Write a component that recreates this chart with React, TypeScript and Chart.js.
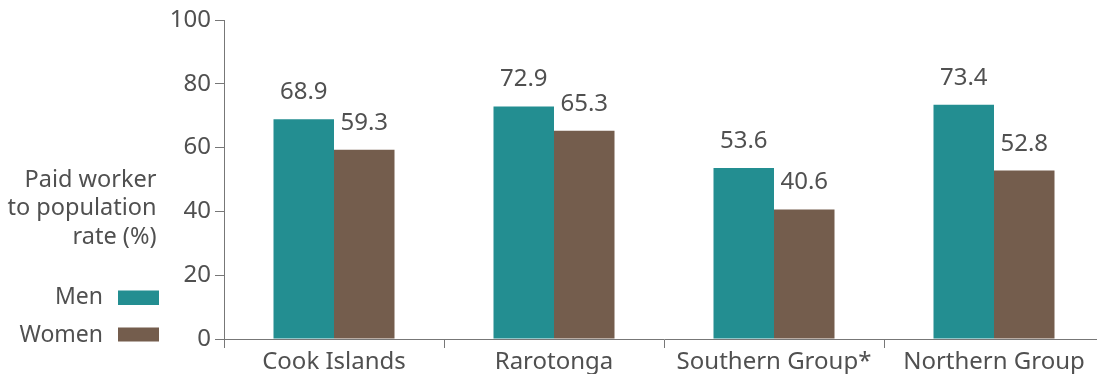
import React, { useEffect, useRef } from "react";
import { Chart, registerables } from "chart.js";

Chart.register(...registerables);

const categories = ["Cook Islands", "Rarotonga", "Southern Group*", "Northern Group"];
const menValues = [68.9, 72.9, 53.6, 73.4];
const womenValues = [59.3, 65.3, 40.6, 52.8];
const seriesNames = ["Men", "Women"];
const axisTitleLines = ["Paid worker", "to population", "rate (%)"];

const MEN_COLOR = "#238e91";
const WOMEN_COLOR = "#745d4d";
const TEXT_COLOR = "#505050";
const AXIS_COLOR = "#777777";
const FONT = "'Noto Sans'";

// Draws the value labels above bars, the y-axis title and the legend on the left side.
const annotationsPlugin = {
  id: "annotations",
  afterDraw(chart: any) {
    const ctx = chart.ctx as CanvasRenderingContext2D;
    ctx.save();
    ctx.fillStyle = TEXT_COLOR;

    // value labels
    ctx.font = `24px ${FONT}`;
    ctx.textAlign = "center";
    ctx.textBaseline = "alphabetic";
    chart.data.datasets.forEach((ds: any, i: number) => {
      const meta = chart.getDatasetMeta(i);
      meta.data.forEach((bar: any, j: number) => {
        ctx.fillText(Number(ds.data[j]).toFixed(1), bar.x, bar.y - 20);
      });
    });

    // y-axis title
    ctx.font = `23.5px ${FONT}`;
    ctx.textAlign = "right";
    axisTitleLines.forEach((line, k) => {
      ctx.fillText(line, 156.5, 186.5 + k * 28.5);
    });

    // legend
    ctx.font = `23px ${FONT}`;
    const rows = [
      { y: 304, boxY: 290.5, boxH: 14.5 },
      { y: 341.5, boxY: 327.5, boxH: 14 },
    ];
    chart.data.datasets.forEach((ds: any, i: number) => {
      const r = rows[i];
      ctx.fillStyle = TEXT_COLOR;
      ctx.fillText(ds.label, 103, r.y);
      ctx.fillStyle = ds.backgroundColor;
      ctx.fillRect(118, r.boxY, 41, r.boxH);
    });

    ctx.restore();
  },
};

export default function App() {
  const canvasRef = useRef<HTMLCanvasElement | null>(null);

  useEffect(() => {
    if (!canvasRef.current) return;
    const chart = new Chart(canvasRef.current, {
      type: "bar",
      data: {
        labels: categories,
        datasets: [
          {
            label: seriesNames[0],
            data: menValues,
            backgroundColor: MEN_COLOR,
            borderWidth: 0,
          },
          {
            label: seriesNames[1],
            data: womenValues,
            backgroundColor: WOMEN_COLOR,
            borderWidth: 0,
          },
        ],
      },
      options: {
        responsive: false,
        animation: false,
        layout: { padding: { top: 20, left: 0, right: 0, bottom: 0 } },
        plugins: {
          legend: { display: false },
          tooltip: { enabled: false },
        },
        datasets: {
          bar: { categoryPercentage: 0.55, barPercentage: 1.0 },
        },
        scales: {
          x: {
            offset: true,
            grid: {
              offset: true,
              drawOnChartArea: false,
              tickLength: 9,
              color: AXIS_COLOR,
            },
            border: { color: AXIS_COLOR, width: 1 },
            ticks: {
              font: { family: FONT, size: 24 },
              color: TEXT_COLOR,
              padding: 0,
              maxRotation: 0,
              autoSkip: false,
            },
            afterFit(scale: any) {
              scale.height = 35;
            },
          },
          y: {
            min: 0,
            max: 100,
            grid: {
              drawOnChartArea: false,
              tickLength: 9,
              color: AXIS_COLOR,
            },
            border: { color: AXIS_COLOR, width: 1 },
            ticks: {
              stepSize: 20,
              font: { family: FONT, size: 24 },
              color: TEXT_COLOR,
              padding: 4,
            },
            afterFit(scale: any) {
              scale.width = 224;
            },
          },
        },
      },
      plugins: [annotationsPlugin],
    });
    return () => chart.destroy();
  }, []);

  return (
    <div
      style={{
        position: "fixed",
        left: 0,
        top: 0,
        width: 1097,
        height: 374,
        overflow: "hidden",
        background: "#ffffff",
      }}
    >
      <canvas ref={canvasRef} width={1104} height={374} />
    </div>
  );
}
